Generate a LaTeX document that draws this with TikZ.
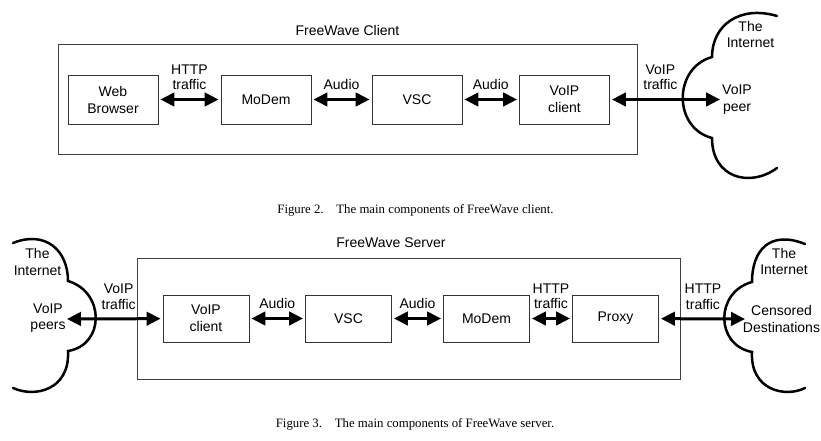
\documentclass[tikz,border=0pt]{standalone}
\usepackage{fontspec}
\setmainfont{Liberation Sans}
\newfontfamily\capfont{Liberation Serif}
\usetikzlibrary{positioning,arrows.meta}

\begin{document}
\begin{tikzpicture}[x=1pt,y=-1pt,
    comp/.style={draw=black!80,line width=0.9pt,align=center,font=\fontsize{14}{17}\selectfont,minimum width=90pt,minimum height=49pt,inner sep=2pt},
    scomp/.style={comp,minimum width=86pt,minimum height=47pt},
    frame/.style={draw=black!75,line width=0.9pt,inner sep=0pt},
    link/.style={line width=3pt,{Triangle[length=14pt,width=13.5pt]}-{Triangle[length=14pt,width=13.5pt]},shorten <=2pt,shorten >=2pt},
    tag/.style={font=\fontsize{14}{15.5}\selectfont,align=center,inner sep=1pt,above=7pt},
    txt/.style={font=\fontsize{14}{16.5}\selectfont,align=center,inner sep=0pt},
    net/.style={line width=2.5pt,line cap=round},
    figcap/.style={font=\capfont\fontsize{12.8}{14}\selectfont,inner sep=0pt}]
  \useasboundingbox (0,0) rectangle (821,441);

  % client side
  \node[frame,minimum width=579pt,minimum height=110pt] (client) at (347.5,99) {};
  \node[txt] (clienttitle) at (347.5,30) {FreeWave Client};
  \node[comp] (web) at (113,99.5) {Web\\Browser};
  \node[comp] (modem) at (266,99.5) {MoDem};
  \node[comp] (vsc) at (417,99.5) {VSC};
  \node[comp] (voip) at (564.5,99.5) {VoIP\\client};
  \coordinate (peer) at (722,99.5);
  \node[txt] (net1) at (750.5,34.5) {The\\Internet};
  \node[txt] (peertxt) at (737,99.5) {VoIP\\peer};
  \draw[net] (777,16) .. controls (740,5) and (712,25) .. (712,57)
    .. controls (673,68) and (673,128) .. (712,138)
    .. controls (712,178) and (750,188) .. (777,168);
  \draw[link] (web) -- node[tag] {HTTP\\traffic} (modem);
  \draw[link] (modem) -- node[tag] {Audio} (vsc);
  \draw[link] (vsc) -- node[tag] {Audio} (voip);
  \draw[link] (voip) -- node[tag,pos=0.45] {VoIP\\traffic} (peer);
  \node[figcap] (cap2) at (415.5,210) {Figure 2.\quad The main components of FreeWave client.};

  % server side
  \node[frame,minimum width=543pt,minimum height=121pt] (server) at (408.5,318.5) {};
  \node[txt] (servertitle) at (391,243) {FreeWave Server};
  \node[scomp] (svoip) at (206,318.5) {VoIP\\client};
  \node[scomp] (svsc) at (348.5,318.5) {VSC};
  \node[scomp] (smodem) at (486.5,318.5) {MoDem};
  \node[scomp] (proxy) at (615.5,318.5) {Proxy};
  \coordinate (peers) at (65,319);
  \coordinate (dest) at (747,319);
  \node[txt] (net2) at (37.5,262) {The\\Internet};
  \node[txt] (peerstxt) at (48,318) {VoIP\\peers};
  \node[txt] (net3) at (784,261.5) {The\\Internet};
  \node[txt] (desttxt) at (781.5,319) {Censored\\Destinations};
  \draw[net] (13,243) .. controls (45,230) and (68,250) .. (68,281)
    .. controls (105,292) and (105,345) .. (68,351)
    .. controls (70,390) and (35,398) .. (13,388);
  \draw[net] (805,244) .. controls (770,230) and (752,250) .. (752,282)
    .. controls (715,292) and (715,345) .. (752,352)
    .. controls (750,390) and (785,398) .. (805,388);
  \draw[link] (peers) -- node[tag,pos=0.55] {VoIP\\traffic} (svoip);
  \draw[link] (svoip) -- node[tag] {Audio} (svsc);
  \draw[link] (svsc) -- node[tag] {Audio} (smodem);
  \draw[link] (smodem) -- node[tag] {HTTP\\traffic} (proxy);
  \draw[link] (proxy) -- node[tag] {HTTP\\traffic} (dest);
  \node[figcap] (cap3) at (415,424) {Figure 3.\quad The main components of FreeWave server.};
\end{tikzpicture}
\end{document}
